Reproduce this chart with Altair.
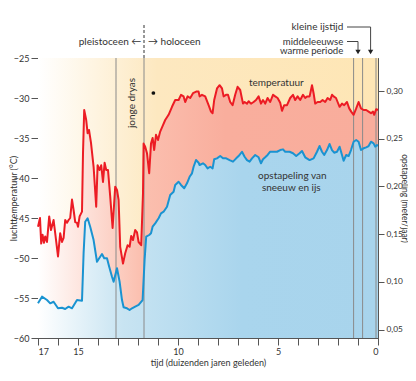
import altair as alt
import pandas as pd

# temperature (°C) at time (thousand years ago)
temperature = [
    (17.0, -46.1), (16.9, -45.0), (16.84, -48.2), (16.77, -47.1), (16.7, -48.1), (16.64, -47.3),
    (16.55, -48.0), (16.44, -44.8), (16.35, -46.5), (16.22, -45.25), (16.14, -46.9), (16.0, -49.8),
    (15.89, -46.9), (15.8, -48.0), (15.72, -47.5), (15.64, -45.25), (15.55, -45.6), (15.47, -45.25),
    (15.39, -45.0), (15.3, -42.7), (15.22, -44.0), (15.14, -45.5), (15.05, -45.6), (15.0, -46.1),
    (14.92, -44.8), (14.8, -44.2), (14.75, -36.9), (14.69, -31.5), (14.59, -32.75), (14.52, -34.4),
    (14.45, -34.0), (14.35, -35.6), (14.22, -38.6), (14.09, -43.6), (14.02, -38.4), (13.92, -39.0),
    (13.84, -38.4), (13.75, -40.5), (13.67, -38.1), (13.59, -39.0), (13.5, -39.0), (13.39, -42.3),
    (13.27, -46.25), (13.14, -41.1), (13.05, -41.5), (12.97, -42.75), (12.89, -48.6), (12.75, -50.7),
    (12.64, -49.4), (12.52, -48.4), (12.42, -48.6), (12.34, -47.25), (12.25, -47.75), (12.14, -46.5),
    (12.05, -46.8), (11.97, -48.0), (11.84, -48.4), (11.75, -41.9), (11.72, -35.7), (11.64, -36.1),
    (11.55, -36.9), (11.44, -39.4), (11.35, -35.7), (11.27, -35.0), (11.19, -36.5), (11.1, -34.6),
    (11.0, -35.25), (10.89, -34.2), (10.75, -33.4), (10.64, -32.75), (10.47, -32.1), (10.3, -31.1),
    (10.14, -30.25), (9.97, -30.25), (9.85, -29.6), (9.72, -29.8), (9.64, -30.5), (9.52, -29.8),
    (9.39, -30.0), (9.25, -29.4), (9.09, -29.2), (8.97, -29.2), (8.92, -29.8), (8.8, -29.6),
    (8.64, -29.8), (8.47, -30.9), (8.35, -31.7), (8.27, -31.9), (8.19, -30.25), (8.05, -28.8),
    (7.92, -28.4), (7.8, -28.8), (7.72, -29.8), (7.6, -29.6), (7.5, -29.6), (7.39, -30.5),
    (7.27, -30.9), (7.14, -29.6), (7.02, -28.6), (6.89, -29.0), (6.75, -30.7), (6.67, -30.5),
    (6.55, -30.7), (6.47, -30.4), (6.35, -30.7), (6.22, -30.5), (6.1, -30.25), (5.97, -29.8),
    (5.85, -30.7), (5.75, -30.25), (5.64, -30.7), (5.52, -30.0), (5.39, -30.5), (5.25, -29.6),
    (5.14, -29.8), (5.02, -30.0), (4.89, -30.6), (4.8, -31.6), (4.69, -30.9), (4.55, -30.9),
    (4.39, -30.0), (4.25, -29.6), (4.14, -30.25), (4.02, -29.8), (3.89, -30.25), (3.75, -29.6),
    (3.64, -30.0), (3.55, -29.8), (3.42, -29.8), (3.3, -28.4), (3.22, -29.4), (3.14, -30.7),
    (3.02, -30.5), (2.89, -30.5), (2.77, -30.25), (2.64, -30.5), (2.52, -30.0), (2.39, -30.25),
    (2.3, -29.6), (2.22, -29.8), (2.1, -30.0), (2.02, -30.5), (1.92, -31.1), (1.8, -30.7),
    (1.69, -30.9), (1.55, -30.5), (1.44, -31.3), (1.34, -31.7), (1.22, -32.1), (1.09, -31.3),
    (0.97, -30.5), (0.85, -31.3), (0.72, -31.5), (0.59, -31.5), (0.47, -31.7), (0.35, -31.9),
    (0.25, -31.7), (0.19, -32.1), (0.09, -31.4), (0.0, -31.5),
]

# accumulation of snow and ice (meter/year)
accumulation = [
    (17.0, 0.0776), (16.8, 0.0846), (16.55, 0.0811), (16.39, 0.0776), (16.22, 0.0793), (16.0, 0.0724),
    (15.8, 0.0730), (15.64, 0.0717), (15.47, 0.0741), (15.3, 0.0724), (15.05, 0.0811), (14.8, 0.0804),
    (14.72, 0.130), (14.64, 0.1631), (14.52, 0.1667), (14.39, 0.1579), (14.22, 0.1439), (14.05, 0.1212),
    (13.94, 0.1248), (13.8, 0.1293), (13.69, 0.1248), (13.55, 0.1248), (13.44, 0.116), (13.3, 0.1055),
    (13.22, 0.1003), (13.05, 0.1143), (12.92, 0.1003), (12.8, 0.0811), (12.72, 0.0735), (12.55, 0.0724),
    (12.42, 0.0706), (12.3, 0.0724), (12.14, 0.0741), (11.97, 0.0759), (11.77, 0.0811), (11.67, 0.123),
    (11.59, 0.1474), (11.44, 0.1492), (11.35, 0.151), (11.27, 0.1579), (11.14, 0.1614), (10.97, 0.1667),
    (10.85, 0.1719), (10.72, 0.1736), (10.55, 0.1788), (10.39, 0.1911), (10.22, 0.1945), (10.14, 0.2016),
    (9.97, 0.205), (9.85, 0.2016), (9.69, 0.1981), (9.55, 0.2033), (9.42, 0.2102), (9.3, 0.2138),
    (9.22, 0.2207), (9.1, 0.2277), (8.97, 0.2249), (8.92, 0.2225), (8.75, 0.2243), (8.64, 0.2225),
    (8.52, 0.219), (8.39, 0.2207), (8.27, 0.219), (8.19, 0.2285), (8.05, 0.2295), (7.89, 0.2319),
    (7.75, 0.2295), (7.59, 0.2295), (7.42, 0.2277), (7.25, 0.226), (7.09, 0.2295), (6.97, 0.2319),
    (6.8, 0.2364), (6.67, 0.2312), (6.55, 0.2277), (6.42, 0.226), (6.3, 0.2295), (6.14, 0.233),
    (5.97, 0.2306), (5.85, 0.2243), (5.75, 0.2285), (5.64, 0.2306), (5.52, 0.233), (5.39, 0.2364),
    (5.22, 0.2364), (5.05, 0.2364), (4.89, 0.2382), (4.75, 0.2389), (4.64, 0.2364), (4.42, 0.2364),
    (4.25, 0.2348), (4.09, 0.2319), (3.92, 0.2348), (3.8, 0.2372), (3.64, 0.2306), (3.42, 0.2277),
    (3.22, 0.2295), (3.05, 0.2364), (2.92, 0.2424), (2.8, 0.2364), (2.69, 0.233), (2.55, 0.2382),
    (2.42, 0.2445), (2.3, 0.2382), (2.19, 0.2354), (2.05, 0.2364), (1.92, 0.2417), (1.8, 0.233),
    (1.72, 0.227), (1.59, 0.233), (1.47, 0.2319), (1.35, 0.2382), (1.22, 0.2469), (1.09, 0.2487),
    (0.97, 0.2469), (0.85, 0.2382), (0.72, 0.24), (0.59, 0.241), (0.47, 0.2424), (0.35, 0.2469),
    (0.22, 0.2452), (0.14, 0.2417), (0.05, 0.2434), (0.0, 0.2430),
]

period_lines_ka = [13.1, 11.7, 1.22, 0.77, 0.1]
x_ticks = list(range(17, -1, -1))
x_labels = [17, 15, 10, 5, 0]
temp_ticks = [-25, -30, -35, -40, -45, -50, -55, -60]
acc_ticks = [0.05, 0.10, 0.15, 0.20, 0.25, 0.30]

temp_df = pd.DataFrame(temperature, columns=["ka", "t"])
acc_df = pd.DataFrame(accumulation, columns=["ka", "a"])
lines_df = pd.DataFrame({"ka": period_lines_ka})

W, H = 340, 280
FONT = "Lato"
TXT = "#333333"

xscale = alt.Scale(domain=[17, 0], nice=False, zero=False)
xaxis = alt.Axis(
    values=x_ticks,
    labelExpr="indexof(%s, datum.value) >= 0 ? datum.label : ''" % str(x_labels),
    title="tijd (duizenden jaren geleden)",
    tickSize=7, labelPadding=2, titlePadding=2, grid=False, labelOverlap=False,
)


def X(field="ka"):
    return alt.X(f"{field}:Q", scale=xscale, axis=xaxis)


tscale = alt.Scale(domain=[-60, -25], nice=False, zero=False)
ascale = alt.Scale(domain=[0.0413, 0.3346], nice=False, zero=False)

orange = alt.LinearGradient(gradient="linear", x1=0, x2=1, y1=0, y2=0, stops=[
    alt.GradientStop(color="#ffffff", offset=0),
    alt.GradientStop(color="#fde8c0", offset=0.35),
    alt.GradientStop(color="#fee6b5", offset=1)])
salmon = alt.LinearGradient(gradient="linear", x1=0, x2=1, y1=0, y2=0, stops=[
    alt.GradientStop(color="#ffffff", offset=0),
    alt.GradientStop(color="#fbc0b0", offset=0.3),
    alt.GradientStop(color="#f9ae9d", offset=0.55),
    alt.GradientStop(color="#f9ad9c", offset=1)])
blue = alt.LinearGradient(gradient="linear", x1=0, x2=1, y1=0, y2=0, stops=[
    alt.GradientStop(color="#ffffff", offset=0),
    alt.GradientStop(color="#c8e4f2", offset=0.25),
    alt.GradientStop(color="#a9d5ed", offset=0.6),
    alt.GradientStop(color="#a8d4ec", offset=1)])

bg = alt.Chart(pd.DataFrame({"x0": [17], "x1": [0]})).mark_rect(color=orange).encode(
    x=X("x0"), x2="x1:Q", y=alt.value(0), y2=alt.value(H))

temp_area = alt.Chart(temp_df).mark_area(color=salmon, interpolate="linear").encode(
    x=X(), y=alt.Y("t:Q", scale=tscale, axis=None, stack=None), y2=alt.value(H))
acc_area = alt.Chart(acc_df).mark_area(color=blue, interpolate="linear").encode(
    x=X(), y=alt.Y("a:Q", scale=ascale, axis=None, stack=None), y2=alt.value(H))

vlines = alt.Chart(lines_df).mark_rule(color="#8a8a8a", strokeWidth=1).encode(
    x=X(), y=alt.value(0), y2=alt.value(H))

temp_line = alt.Chart(temp_df).mark_line(color="#ec1c24", strokeWidth=2, strokeJoin="round").encode(
    x=X(),
    y=alt.Y("t:Q", scale=tscale, stack=None, axis=alt.Axis(
        orient="left", values=temp_ticks, title="luchttemperatuur (°C)",
        tickSize=7, labelPadding=2, grid=False,
        titleX=-25, titleY=H / 2, titleAngle=270, titleAlign="center", titleBaseline="middle")))
acc_line = alt.Chart(acc_df).mark_line(color="#1a93d1", strokeWidth=2, strokeJoin="round").encode(
    x=X(),
    y=alt.Y("a:Q", scale=ascale, stack=None, axis=alt.Axis(
        orient="right", values=acc_ticks, title="opstapeling (meter/jaar)",
        labelExpr="replace(format(datum.value, '.2f'), '.', ',')",
        labelFontSize=8.3, titleFontSize=8.5,
        tickSize=6, labelPadding=2, grid=False,
        titleX=26, titleY=H / 2, titleAngle=90, titleAlign="center", titleBaseline="middle")))


def label(text, ka, py, align="center", angle=0, size=10):
    return alt.Chart(pd.DataFrame({"ka": [ka]})).mark_text(
        text=text, align=align, baseline="middle", angle=angle,
        font=FONT, fontSize=size, color=TXT).encode(x=X(), y=alt.value(py))


def hseg(ka0, ka1, py, dash=None, color="#444444"):
    kw = {"strokeDash": dash} if dash else {}
    return alt.Chart(pd.DataFrame({"a": [ka0], "b": [ka1]})).mark_rule(
        color=color, strokeWidth=1, **kw).encode(x=X("a"), x2="b:Q", y=alt.value(py))


def vseg(ka, py0, py1, dash=None, color="#444444"):
    kw = {"strokeDash": dash} if dash else {}
    return alt.Chart(pd.DataFrame({"ka": [ka]})).mark_rule(
        color=color, strokeWidth=1, **kw).encode(x=X(), y=alt.value(py0), y2=alt.value(py1))


def head(ka, py):
    return alt.Chart(pd.DataFrame({"ka": [ka]})).mark_point(
        shape="triangle-down", filled=True, color="#222222", size=28, opacity=1).encode(
        x=X(), y=alt.value(py))


dot = alt.Chart(pd.DataFrame({"ka": [11.23]})).mark_point(
    shape="circle", filled=True, color="#111111", size=14, opacity=1).encode(
    x=X(), y=alt.value(35))

annotations = [
    vseg(11.7, -33, 0, dash=[3, 2], color="#333333"),
    label("pleistoceen ←", 11.835, -16.3, align="right"),
    label("→ holoceen", 11.5, -16.3, align="left"),
    label("kleine ijstijd", 1.735, -31, align="right"),
    label("middeleeuwse", 1.735, -16.5, align="right", size=9.6),
    label("warme periode", 1.735, -6.8, align="right", size=9.6),
    hseg(1.55, 0.37, -31), vseg(0.37, -31, -8), head(0.37, -6),
    hseg(1.55, 1.0, -16.5), vseg(1.0, -16.5, -8), head(1.0, -6),
    label("jonge dryas", 12.31, 45, angle=270),
    dot,
    label("temperatuur", 5.085, 25),
    label("opstapeling van", 4.285, 118),
    label("sneeuw en ijs", 4.335, 129.5),
]

chart = alt.layer(bg, temp_area, acc_area, vlines, temp_line, acc_line, *annotations).resolve_scale(
    y="independent"
).properties(
    width=W, height=H,
    autosize=alt.AutoSizeParams(type="none"),
    padding={"left": 30, "top": 50, "right": 30, "bottom": 30},
).configure_view(stroke="#555555", strokeWidth=1).configure_axis(
    labelFont=FONT, labelFontSize=9, labelColor=TXT,
    titleFont=FONT, titleFontSize=9, titleFontWeight="normal", titleColor=TXT,
    domainColor="#555555", tickColor="#555555", domainWidth=1, tickWidth=1,
)

chart.save("out.html", embed_options={"renderer": "svg", "actions": False})
